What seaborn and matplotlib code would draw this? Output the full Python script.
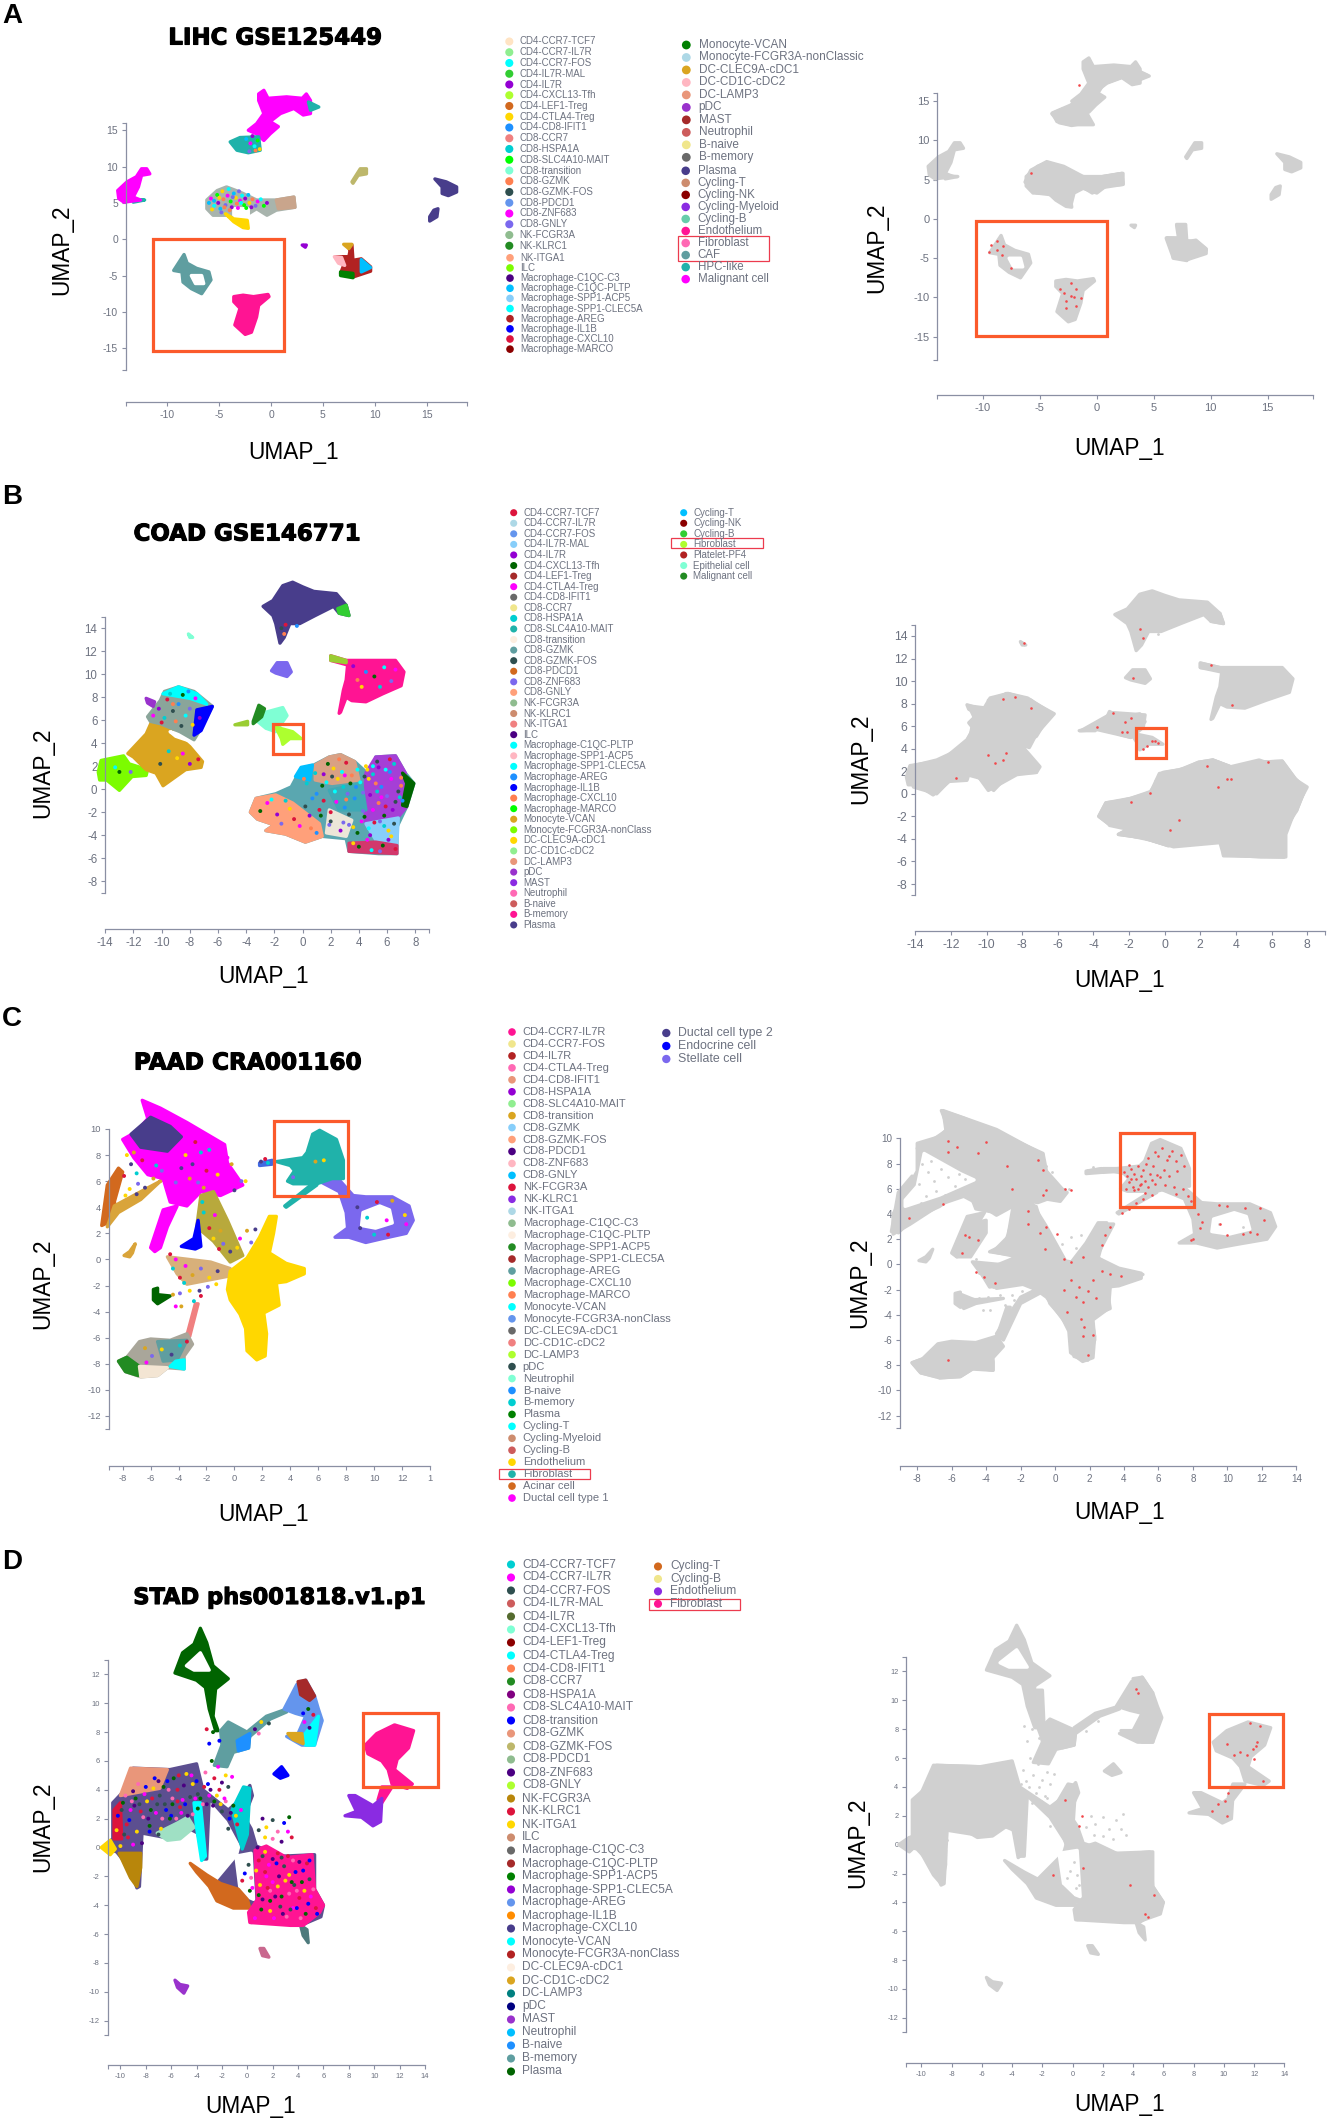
import matplotlib
matplotlib.use("Agg")
import matplotlib.pyplot as plt
import matplotlib.patheffects as pe
from matplotlib.patches import Rectangle
import seaborn as sns

W, H = 1329, 2121
GREY = "#d0d0d0"
RED = "#f2474a"
BOX = "#fb5a2b"
AXIS = "#8a8fa3"
TEXT = "#6d7280"
ROSY = "#cd8c6e"

# ---- legends ----
A_LEG1 = ["CD4-CCR7-TCF7", "CD4-CCR7-IL7R", "CD4-CCR7-FOS", "CD4-IL7R-MAL", "CD4-IL7R", "CD4-CXCL13-Tfh", "CD4-LEF1-Treg",
          "CD4-CTLA4-Treg", "CD4-CD8-IFIT1", "CD8-CCR7", "CD8-HSPA1A", "CD8-SLC4A10-MAIT", "CD8-transition", "CD8-GZMK",
          "CD8-GZMK-FOS", "CD8-PDCD1", "CD8-ZNF683", "CD8-GNLY", "NK-FCGR3A", "NK-KLRC1"]
A_COL1 = ["bisque", "lightgreen", "aqua", "limegreen", "darkviolet", "greenyellow", "chocolate", "gold", "dodgerblue",
          "lightcoral", "darkturquoise", "lime", "aquamarine", "coral", "darkslategray", "cornflowerblue", "magenta",
          "mediumslateblue", "darkseagreen", "forestgreen"]
A_LEG2 = ["NK-ITGA1", "ILC", "Macrophage-C1QC-C3", "Macrophage-C1QC-PLTP", "Macrophage-SPP1-ACP5", "Macrophage-SPP1-CLEC5A",
          "Macrophage-AREG", "Macrophage-IL1B", "Macrophage-CXCL10", "Macrophage-MARCO"]
A_COL2 = ["lightsalmon", "lawngreen", "indigo", "deepskyblue", "lightskyblue", "aqua", "firebrick", "blue", "crimson", "darkred"]
A_LEG3 = ["Monocyte-VCAN", "Monocyte-FCGR3A-nonClassic", "DC-CLEC9A-cDC1", "DC-CD1C-cDC2", "DC-LAMP3", "pDC", "MAST",
          "Neutrophil", "B-naive", "B-memory"]
A_COL3 = ["green", "lightblue", "goldenrod", "lightpink", "darksalmon", "darkorchid", "brown", "indianred", "khaki", "dimgray"]
A_LEG4 = ["Plasma", "Cycling-T", "Cycling-NK", "Cycling-Myeloid", "Cycling-B", "Endothelium", "Fibroblast", "CAF", "HPC-like",
          "Malignant cell"]
A_COL4 = ["darkslateblue", ROSY, "darkred", "blueviolet", "mediumaquamarine", "deeppink", "hotpink", "cadetblue",
          "lightseagreen", "magenta"]

B_LEG1 = ["CD4-CCR7-TCF7", "CD4-CCR7-IL7R", "CD4-CCR7-FOS", "CD4-IL7R-MAL", "CD4-IL7R", "CD4-CXCL13-Tfh", "CD4-LEF1-Treg",
          "CD4-CTLA4-Treg", "CD4-CD8-IFIT1", "CD8-CCR7", "CD8-HSPA1A", "CD8-SLC4A10-MAIT", "CD8-transition", "CD8-GZMK",
          "CD8-GZMK-FOS", "CD8-PDCD1", "CD8-ZNF683", "CD8-GNLY", "NK-FCGR3A", "NK-KLRC1", "NK-ITGA1", "ILC",
          "Macrophage-C1QC-PLTP", "Macrophage-SPP1-ACP5", "Macrophage-SPP1-CLEC5A", "Macrophage-AREG", "Macrophage-IL1B",
          "Macrophage-CXCL10", "Macrophage-MARCO", "Monocyte-VCAN", "Monocyte-FCGR3A-nonClass", "DC-CLEC9A-cDC1",
          "DC-CD1C-cDC2", "DC-LAMP3", "pDC", "MAST", "Neutrophil", "B-naive", "B-memory", "Plasma"]
B_COL1 = ["crimson", "lightblue", "cornflowerblue", "lightskyblue", "darkviolet", "darkgreen", "brown", "magenta", "dimgray",
          "khaki", "darkturquoise", "lightseagreen", "#fdeee0", "cadetblue", "darkslategray", "chocolate", "mediumslateblue",
          "lightsalmon", "darkseagreen", ROSY, "lightcoral", "indigo", "aqua", "lightpink", "aqua", "dodgerblue", "blue",
          "coral", "lime", "goldenrod", "lawngreen", "gold", "lightgreen", "darksalmon", "darkorchid", "blueviolet", "hotpink",
          "indianred", "deeppink", "darkslateblue"]
B_LEG2 = ["Cycling-T", "Cycling-NK", "Cycling-B", "Fibroblast", "Platelet-PF4", "Epithelial cell", "Malignant cell"]
B_COL2 = ["deepskyblue", "darkred", "limegreen", "greenyellow", "firebrick", "aquamarine", "forestgreen"]

C_LEG1 = ["CD4-CCR7-IL7R", "CD4-CCR7-FOS", "CD4-IL7R", "CD4-CTLA4-Treg", "CD4-CD8-IFIT1", "CD8-HSPA1A", "CD8-SLC4A10-MAIT",
          "CD8-transition", "CD8-GZMK", "CD8-GZMK-FOS", "CD8-PDCD1", "CD8-ZNF683", "CD8-GNLY", "NK-FCGR3A", "NK-KLRC1",
          "NK-ITGA1", "Macrophage-C1QC-C3", "Macrophage-C1QC-PLTP", "Macrophage-SPP1-ACP5", "Macrophage-SPP1-CLEC5A",
          "Macrophage-AREG", "Macrophage-CXCL10", "Macrophage-MARCO", "Monocyte-VCAN", "Monocyte-FCGR3A-nonClass",
          "DC-CLEC9A-cDC1", "DC-CD1C-cDC2", "DC-LAMP3", "pDC", "Neutrophil", "B-naive", "B-memory", "Plasma", "Cycling-T",
          "Cycling-Myeloid", "Cycling-B", "Endothelium", "Fibroblast", "Acinar cell", "Ductal cell type 1"]
C_COL1 = ["deeppink", "khaki", "firebrick", "hotpink", "darksalmon", "darkviolet", "lightgreen", "goldenrod", "lightskyblue",
          "lightsalmon", "indigo", "lightpink", "deepskyblue", "crimson", "blueviolet", "lightblue", "darkseagreen", "#fdeee0",
          "forestgreen", "brown", "cadetblue", "lawngreen", "coral", "aqua", "cornflowerblue", "dimgray", "lightcoral",
          "greenyellow", "darkslategray", "aquamarine", "dodgerblue", "darkturquoise", "green", "aqua", ROSY, "indianred",
          "gold", "lightseagreen", "chocolate", "magenta"]
C_LEG2 = ["Ductal cell type 2", "Endocrine cell", "Stellate cell"]
C_COL2 = ["darkslateblue", "blue", "mediumslateblue"]

D_LEG1 = ["CD4-CCR7-TCF7", "CD4-CCR7-IL7R", "CD4-CCR7-FOS", "CD4-IL7R-MAL", "CD4-IL7R", "CD4-CXCL13-Tfh", "CD4-LEF1-Treg",
          "CD4-CTLA4-Treg", "CD4-CD8-IFIT1", "CD8-CCR7", "CD8-HSPA1A", "CD8-SLC4A10-MAIT", "CD8-transition", "CD8-GZMK",
          "CD8-GZMK-FOS", "CD8-PDCD1", "CD8-ZNF683", "CD8-GNLY", "NK-FCGR3A", "NK-KLRC1", "NK-ITGA1", "ILC",
          "Macrophage-C1QC-C3", "Macrophage-C1QC-PLTP", "Macrophage-SPP1-ACP5", "Macrophage-SPP1-CLEC5A", "Macrophage-AREG",
          "Macrophage-IL1B", "Macrophage-CXCL10", "Monocyte-VCAN", "Monocyte-FCGR3A-nonClass", "DC-CLEC9A-cDC1",
          "DC-CD1C-cDC2", "DC-LAMP3", "pDC", "MAST", "Neutrophil", "B-naive", "B-memory", "Plasma"]
D_COL1 = ["darkturquoise", "magenta", "darkslategray", "indianred", "darkolivegreen", "aquamarine", "darkred", "aqua", "coral",
          "forestgreen", "purple", "hotpink", "blue", "darksalmon", "darkkhaki", "darkseagreen", "indigo", "greenyellow",
          "darkgoldenrod", "crimson", "gold", ROSY, "dimgray", "brown", "green", "darkviolet", "cornflowerblue", "darkorange",
          "darkslateblue", "aqua", "firebrick", "#fdeee0", "goldenrod", "teal", "navy", "darkorchid", "deepskyblue",
          "dodgerblue", "cadetblue", "darkgreen"]
D_LEG2 = ["Cycling-T", "Cycling-B", "Endothelium", "Fibroblast"]
D_COL2 = ["chocolate", "khaki", "blueviolet", "deeppink"]

# ---- panel A clusters, UMAP coordinates ----
A_BAND = [(-1.2, 20.0), (-0.7, 20.5), (-0.3, 19.4), (1.5, 19.6), (3.0, 19.4), (3.4, 20.0), (3.8, 19.1), (3.8, 17.3), (3.1, 17.1),
          (2.2, 18.0), (0.9, 17.3), (-0.1, 16.2), (0.7, 15.5), (-0.1, 14.5), (-0.7, 13.6), (-1.4, 14.5), (-2.2, 15.0),
          (-1.4, 15.9), (-0.7, 17.3), (-1.2, 19.1)]
A_TEAL = [(-3.95, 13.4), (-3.0, 14.0), (-1.2, 14.1), (-1.05, 12.25), (-2.2, 11.9), (-3.3, 12.25)]
A_TIP = [(3.6, 18.9), (4.6, 18.2), (3.8, 17.75)]
A_LEFT = [(-14.8, 6.7), (-13.9, 7.9), (-13.0, 8.6), (-12.5, 9.7), (-12.0, 9.7), (-11.7, 9.0), (-12.5, 8.8), (-12.8, 7.2),
          (-13.3, 5.8), (-12.6, 5.4), (-14.2, 5.1), (-14.7, 5.6)]
A_LEFT_TAIL = [(-13.3, 5.5), (-12.2, 5.4), (-13.3, 5.1)]
A_MIX = [(-6.2, 5.4), (-5.2, 6.7), (-4.3, 7.2), (-3.0, 6.5), (-1.4, 5.4), (0.5, 5.4), (2.2, 5.8), (2.3, 4.4), (0.5, 4.0),
         (-0.4, 3.3), (-1.4, 4.2), (-2.2, 3.5), (-3.6, 3.3), (-5.6, 3.3), (-6.2, 4.2)]
A_MIX_GAP = [(-3.6, 4.2), (-2.2, 4.2), (-2.2, 2.8), (-3.6, 3.3)]
A_MIX_RIGHT = [(0.5, 5.4), (2.2, 5.8), (2.3, 4.4), (0.7, 4.2)]
A_GOLD = [(-4.4, 3.5), (-3.6, 2.8), (-2.3, 2.6), (-2.2, 1.5), (-2.7, 1.6), (-3.6, 2.4)]
A_CAF = [(-9.4, -4.3), (-8.4, -2.1), (-8.1, -3.3), (-7.2, -4.0), (-6.0, -4.5), (-5.8, -5.6), (-6.7, -7.5), (-7.7, -6.8),
         (-8.5, -5.9), (-8.6, -4.5)]
A_CAF_HOLE = [(-7.7, -5.0), (-6.7, -5.0), (-6.5, -6.1), (-7.3, -6.1)]
A_FIB = [(-3.6, -7.9), (-2.7, -7.7), (-1.7, -7.9), (-0.3, -7.6), (-0.2, -7.9), (-1.2, -9.1), (-1.4, -10.7), (-1.9, -12.8),
         (-2.5, -13.1), (-3.5, -11.8), (-3.0, -9.5), (-3.6, -8.6)]
A_PLASMA1 = [(15.8, 8.3), (16.9, 7.9), (17.9, 7.2), (17.9, 6.5), (17.1, 6.0), (16.5, 6.3), (16.5, 7.2)]
A_PLASMA2 = [(15.3, 3.1), (15.7, 4.0), (16.1, 4.2), (16.0, 3.1), (15.3, 2.5)]
A_RED_BLOB = [(6.2, -2.4), (7.5, -2.4), (7.6, -1.7), (7.5, -0.8), (7.8, -0.8), (7.9, -2.9), (8.7, -2.7), (9.6, -3.8), (9.6, -4.4),
              (7.9, -5.2), (6.7, -4.7), (7.0, -3.6)]
A_BLUE = [(8.7, -2.8), (9.6, -3.9), (8.7, -4.5)]
A_GREEN = [(6.7, -4.5), (7.9, -4.7), (7.9, -5.3), (6.7, -5.0)]
A_PINK = [(6.1, -2.4), (6.8, -2.5), (7.1, -3.6), (6.5, -3.3)]
A_ORANGE = [(7.0, -0.7), (7.8, -0.7), (7.5, -1.3)]
A_SMALL = [(3.0, -0.8), (3.4, -0.8), (3.3, -1.1)]
A_NUB = [(8.6, 9.7), (9.2, 9.7), (9.2, 9.0), (8.4, 8.8), (7.9, 7.7), (7.8, 7.9)]
A_BLOBS = [(A_BAND, "magenta"), (A_TEAL, "lightseagreen"), (A_TIP, "lightseagreen"), (A_LEFT_TAIL, "lightseagreen"),
           (A_LEFT, "magenta"), (A_MIX, "#a8b4ad"), (A_MIX_RIGHT, "#c9a58c"), (A_MIX_GAP, "white"), (A_GOLD, "gold"),
           (A_CAF, "cadetblue"), (A_CAF_HOLE, "white"), (A_FIB, "deeppink"), (A_PLASMA1, "darkslateblue"),
           (A_PLASMA2, "darkslateblue"), (A_RED_BLOB, "firebrick"), (A_BLUE, "deepskyblue"), (A_GREEN, "green"),
           (A_PINK, "lightpink"), (A_ORANGE, "goldenrod"), (A_SMALL, "darkviolet"), (A_NUB, "darkkhaki")]
# extents that only the grey plot shows filled in
A_G_TOP = [(-3.9, 13.5), (-2.3, 14.5), (-1.2, 15.8), (0.0, 17.2), (-0.6, 17.9), (0.0, 18.5), (2.0, 19.4), (3.2, 19.0), (4.4, 18.3), (3.2, 17.2),
           (2.3, 18.1), (0.6, 17.2), (0.0, 15.8), (-1.2, 14.3), (-0.3, 12.0), (-2.3, 12.0), (-3.5, 12.4)]
A_G_MIX = [(-6.3, 4.7), (-5.8, 6.2), (-4.4, 7.3), (-2.9, 6.7), (-1.2, 5.4), (0.0, 5.2), (2.3, 5.8), (2.3, 4.5), (0.9, 4.3), (0.0, 3.3), (-1.2, 3.9),
           (-2.0, 3.3), (-2.3, 1.6), (-2.9, 2.0), (-4.1, 3.1), (-5.3, 3.3)]
A_G_RED = [(6.1, -2.5), (7.2, -2.7), (7.0, -0.8), (7.7, -0.8), (7.6, -2.7), (8.6, -2.9), (9.6, -4.0), (7.9, -5.2), (6.7, -4.9)]
A_GREY = [A_G_TOP, A_G_MIX, A_G_RED]
A_DOT_X = [-5.8, -5.5, -5.2, -5.1, -4.9, -4.7, -4.6, -4.4, -4.2, -4.1, -3.9, -3.8, -3.6, -3.4, -3.3, -3.1, -3.0, -2.8, -2.6, -2.5,
           -2.2, -2.1, -1.8, -1.5, -1.3, -1.0, -0.7, -0.4, -5.5, -5.0, -4.5, -3.7, -3.2, -2.9, -2.4, -1.9, -6.0, -5.7, -4.0, -4.8,
           -2.0, -1.6, -1.3, -1.8, -2.4, -1.1, -1.5, -2.1]
A_DOT_Y = [5.6, 4.6, 6.1, 5.0, 4.2, 6.6, 5.5, 4.7, 6.0, 6.9, 5.2, 4.4, 6.3, 5.7, 4.9, 6.6, 5.3, 6.0, 4.7, 5.6,
           6.1, 5.0, 5.5, 4.6, 5.2, 5.5, 4.6, 5.0, 5.3, 5.7, 4.4, 5.8, 4.3, 5.0, 4.3, 4.4, 5.0, 4.1, 4.0, 3.7,
           13.2, 12.8, 13.6, 14.2, 13.8, 12.4, 12.2, 12.1]
A_DOT_COL = ["magenta", "aqua", "lime", "darkviolet", "deepskyblue", "gold", "coral", "mediumslateblue"]
A_RED_X = [-8.8, -9.3, -9.5, -8.8, -8.2, -8.3, -7.5, -1.8, -2.3, -3.2, -2.9, -2.0, -2.7, -1.4, -1.8, -2.3, -2.7, -5.8, -1.6]
A_RED_Y = [-2.8, -3.3, -4.2, -3.9, -3.5, -4.6, -6.2, -8.9, -8.1, -8.9, -9.4, -10.0, -10.4, -10.1, -11.1, -9.8, -11.4, 5.8, 17.0]

# ---- panel B clusters ----
B_PLASMA = [(-2.8, 15.9), (-2.1, 16.4), (-1.4, 17.7), (-0.7, 18.0), (0.0, 17.6), (0.8, 17.2), (2.4, 17.0), (3.1, 16.0), (3.3, 15.1),
            (2.6, 15.3), (2.2, 15.9), (0.9, 15.1), (-0.2, 14.4), (-0.9, 14.4), (-1.3, 13.2), (-1.6, 12.7), (-1.9, 14.4), (-2.1, 15.1)]
B_PLASMA_TIP = [(2.5, 15.7), (3.1, 16.0), (3.3, 15.1), (2.6, 15.3)]
B_MAST = [(-2.2, 10.3), (-1.8, 11.0), (-1.1, 11.0), (-0.8, 10.2), (-1.1, 9.8), (-1.9, 10.1)]
B_TINY = [(-8.1, 13.5), (-7.8, 13.2), (-8.0, 13.2)]
B_ENDO = [(2.0, 11.6), (3.1, 11.2), (5.2, 11.2), (6.6, 11.2), (7.2, 10.2), (7.0, 9.0), (5.7, 8.3), (4.5, 7.6), (3.5, 7.7), (3.1, 8.0),
          (2.7, 6.7), (2.6, 6.6), (2.9, 8.6), (3.1, 9.5), (3.2, 10.8), (2.0, 11.2)]
B_ENDO_TIP = [(2.0, 11.6), (3.1, 11.2), (3.1, 11.0), (2.0, 11.2)]
B_LIME = [(-14.5, 1.5), (-14.3, 2.5), (-12.7, 2.9), (-12.3, 2.2), (-11.0, 1.7), (-11.1, 1.2), (-12.1, 1.1), (-13.0, -0.1),
          (-13.9, 0.8), (-14.4, 0.8)]
B_GOLD = [(-12.4, 3.1), (-11.1, 4.8), (-10.7, 5.9), (-9.2, 5.0), (-8.0, 3.7), (-7.1, 2.4), (-7.2, 1.9), (-8.3, 1.7), (-9.9, 0.3),
          (-10.4, 1.4), (-11.1, 1.7), (-12.0, 2.8)]
B_GOLD_GAP = [(-9.4, 5.0), (-7.5, 4.4), (-7.8, 4.1), (-9.0, 4.6)]
B_MONO = [(-11.0, 6.3), (-10.1, 7.7), (-9.8, 8.5), (-8.8, 8.9), (-7.7, 8.5), (-6.4, 7.2), (-7.3, 5.1), (-7.7, 4.3), (-8.7, 5.0),
          (-10.1, 5.7), (-10.8, 5.9)]
B_MONO_BLUE = [(-7.5, 6.9), (-6.4, 7.2), (-7.2, 5.1), (-7.7, 4.7)]
B_MONO_CYAN = [(-9.9, 8.3), (-8.8, 8.9), (-7.5, 8.3), (-6.8, 7.4), (-8.0, 7.9)]
B_NUB = [(-11.1, 7.9), (-10.5, 7.6), (-10.6, 7.2), (-11.0, 7.5)]
B_EPI = [(-3.2, 5.9), (-2.6, 6.7), (-1.4, 7.1), (-1.1, 6.4), (-1.5, 5.7), (-1.9, 5.0), (-2.6, 5.3)]
B_EPI_GREEN = [(-3.5, 5.9), (-3.1, 7.3), (-2.7, 7.0), (-2.9, 6.3), (-3.5, 5.7)]
B_EPI_TAIL = [(-4.8, 5.6), (-3.9, 5.9), (-3.9, 5.6)]
B_FIB = [(-1.9, 5.4), (-0.7, 5.0), (-0.1, 4.4), (-0.9, 4.4), (-1.4, 3.9), (-1.5, 4.4)]
B_BIG = [(-3.7, -2.0), (-3.3, -0.8), (-1.9, -0.4), (-0.8, 0.2), (-0.1, 1.8), (0.8, 2.1), (1.9, 2.8), (2.7, 3.0), (3.7, 2.4), (4.5, 1.5),
         (5.2, 1.7), (5.2, 2.8), (6.6, 2.9), (7.3, 1.4), (7.9, 0.5), (7.4, -1.5), (6.7, -3.3), (6.7, -5.6), (5.4, -5.6), (3.3, -5.4),
         (3.1, -4.3), (1.4, -4.1), (0.2, -4.6), (-1.2, -3.9), (-2.6, -3.6), (-2.0, -3.1), (-3.2, -2.6)]
B_BIG_SALMON = [(-3.7, -2.0), (-3.3, -0.8), (-1.9, -0.5), (-0.7, -1.2), (1.2, -3.0), (1.4, -4.1), (0.2, -4.6), (-1.2, -3.9), (-2.6, -3.6),
                (-2.0, -3.1), (-3.2, -2.6)]
B_BIG_PURPLE = [(4.5, 1.4), (5.2, 2.8), (6.6, 2.9), (7.3, 1.4), (7.4, -1.5), (6.8, -2.4), (4.5, -3.0), (4.4, -1.0)]
B_BIG_SKY = [(4.5, -3.0), (6.8, -2.5), (6.7, -4.7), (5.2, -4.4)]
B_BIG_CRIMSON = [(3.3, -4.7), (5.2, -4.6), (6.7, -4.9), (6.7, -5.6), (3.3, -5.4)]
B_BIG_EDGE = [(7.1, 1.4), (7.9, 0.5), (7.4, -1.5), (7.1, -1.4), (7.4, 0.5)]
B_BIG_PEACH = [(0.9, 2.1), (1.9, 2.8), (2.7, 3.0), (3.7, 2.4), (4.0, 0.8), (2.1, 0.5), (0.9, 0.8)]
B_BIG_BLUE = [(-0.5, 1.1), (-0.1, 1.9), (0.7, 2.1), (0.5, 0.8)]
B_BIG_PALE = [(1.9, -1.8), (3.5, -2.7), (3.1, -4.1), (1.7, -3.8)]
B_BIG_TEAL = [(1.9, -0.1), (4.2, 0.5), (4.5, -1.8), (2.6, -1.8)]
B_BLOBS = [(B_PLASMA, "darkslateblue"), (B_PLASMA_TIP, "limegreen"), (B_MAST, "mediumslateblue"), (B_TINY, "aquamarine"),
           (B_ENDO, "deeppink"), (B_ENDO_TIP, "yellowgreen"), (B_LIME, "lawngreen"), (B_GOLD, "goldenrod"), (B_GOLD_GAP, "white"),
           (B_MONO, "#8aa59a"), (B_MONO_BLUE, "blue"), (B_MONO_CYAN, "aqua"), (B_NUB, "darkorchid"), (B_EPI, "aquamarine"),
           (B_EPI_GREEN, "forestgreen"), (B_EPI_TAIL, "yellowgreen"), (B_FIB, "greenyellow"), (B_BIG, "#5aa7b0"),
           (B_BIG_SALMON, "lightsalmon"), (B_BIG_PURPLE, "#a53fd6"), (B_BIG_SKY, "lightskyblue"), (B_BIG_CRIMSON, "#d2386c"),
           (B_BIG_EDGE, "darkgreen"), (B_BIG_PEACH, "#d9a084"), (B_BIG_BLUE, "deepskyblue"), (B_BIG_PALE, "#ece6d8"),
           (B_BIG_TEAL, "#3fa9b5")]
B_G_LEFT = [(-14.3, 1.5), (-14.1, 2.5), (-12.8, 3.0), (-11.3, 4.1), (-10.9, 5.3), (-10.7, 6.8), (-11.0, 7.8), (-10.0, 7.6), (-8.9, 8.9), (-7.6, 8.3),
            (-6.2, 7.1), (-7.2, 5.3), (-7.6, 4.1), (-8.1, 4.4), (-7.0, 2.4), (-7.2, 1.9), (-8.7, 1.8), (-9.6, 0.3), (-10.7, 1.8), (-11.3, 1.5),
            (-12.0, 1.3), (-12.8, 0.0), (-14.1, 0.6)]
B_G_BIG = [(-3.5, -1.9), (-3.2, -0.9), (-1.9, -0.4), (-0.8, 0.1), (-0.3, 1.8), (0.7, 2.1), (1.8, 2.5), (2.7, 3.0), (3.7, 2.4), (5.3, 3.0), (6.4, 2.4),
           (7.4, 1.2), (8.0, 0.6), (7.3, -1.5), (6.8, -3.6), (6.8, -5.6), (3.3, -5.5), (3.3, -4.3), (0.5, -4.7), (-0.8, -4.1), (-2.3, -3.6),
           (-1.6, -3.3), (-3.1, -2.8)]
B_G_EPI = [(-4.7, 5.6), (-2.9, 7.2), (-1.1, 7.0), (-1.2, 5.9), (-1.9, 5.0), (-2.7, 5.3), (-3.8, 5.7)]
B_GREY = [B_G_LEFT, B_G_BIG, B_G_EPI]
B_DOT_X = [-2.5, -1.8, -1.2, -0.6, 0.2, 0.6, 1.0, 1.3, 1.7, 1.9, 2.2, 2.4, 2.7, 2.9, 3.1, 3.3, 3.5, 3.7, 3.9, 4.1, 4.3, 4.5, 4.6, 4.8,
           5.0, 5.1, 5.3, 5.4, 5.6, 5.7, 5.9, 6.0, 6.1, 6.3, 6.4, 6.5, 6.6, 6.8, 7.0, 7.1, 4.0, 4.9, 5.5, 3.6, 3.0, 1.5, 0.3, 2.0,
           4.4, 5.2, 6.2, 5.8, 4.7, 3.2, 2.5,
           -10.6, -10.2, -9.8, -9.6, -9.2, -9.0, -8.8, -8.5, -8.3, -8.0, -7.8, -7.6, -7.3, -9.4, -10.0, -8.6, -9.2, -8.1,
           -13.0, -13.3, -12.2, -8.9, -8.5, -8.0, -9.5, -7.4, -10.1, 3.9, 4.5, 5.1, 5.8, 6.3, 4.2, 6.6, 3.6, 5.5, -1.2, -1.5, -1.3, -0.4,
           -3.0, -2.2, -1.5, -0.9, -0.2, 0.5, 0.9, 1.5, 2.1, 2.6, 3.0, 3.4, 3.9, 4.3, 4.7, 5.0, 5.4, 5.8, 6.2, 6.6,
           7.0, 1.0, 1.8, 2.3, 2.9, 3.6, 4.2, 4.8, 5.3, 5.9, 6.5, 0.1, 0.7, 1.4, 2.8, 3.3, 4.6, 5.6, 6.1, 6.9, 1.2, 2.0, 3.1, 3.8, 4.4, 5.0, 5.5, 6.3]
B_DOT_Y = [-1.2, -2.2, -1.0, -2.6, -1.5, -3.4, -0.4, -2.3, 0.6, -3.1, 1.8, -1.1, -3.6, 0.2, 2.3, -2.2, 1.2, -0.8, -3.8, 0.6, -1.9, 2.0,
           -4.4, -0.5, 1.3, -2.9, 2.4, -1.2, 0.2, -4.9, 1.7, -0.6, -3.6, 0.9, -1.8, 2.2, -5.2, -0.2, 1.0, -1.0, -5.0, -5.3, -5.4, -4.7,
           1.2, 1.3, 0.5, -2.0, 1.1, 0.5, 1.5, -2.3, -3.4, -0.4, 0.9,
           6.4, 7.0, 6.2, 7.8, 6.8, 5.9, 7.4, 8.2, 6.4, 7.0, 5.6, 7.9, 6.2, 8.3, 5.8, 5.5, 7.4, 8.5,
           1.5, 1.9, 1.5, 2.7, 3.1, 2.2, 3.3, 2.6, 2.2, 9.5, 10.2, 9.8, 10.6, 9.4, 8.9, 10.4, 10.7, 8.9, 14.3, 14.0, 13.5, 14.2,
           -1.9, -0.9, -3.0, -1.7, -3.2, -2.3, 1.4, -1.0, 1.1, 2.6, -1.6, 0.5, 1.7, -0.3, 0.9, -1.8, 1.9, -3.2, 2.6, -1.1,
           0.3, -3.8, 2.2, -0.2, -2.9, -3.3, -2.8, -4.0, -0.2, -1.5, -3.0, 0.9, -0.8, 0.3, 1.5, -3.1, 1.7, -0.7, -4.4, -0.7, -1.8, -2.8, -0.9, 0.2, -2.4, 2.0, -2.8, -4.1]
B_DOT_COL = ["magenta", "darkviolet", "darkturquoise", "crimson", "darkslategray", "coral", "dodgerblue", "darkgreen", "aqua",
             "mediumslateblue", "gold"]
B_RED_X = [-7.9, -1.4, -1.2, -1.8, -2.9, -3.8, -1.9, -2.2, -2.4, -2.1, -0.7, -0.55, -0.4, -1.0, -1.2, -8.9, -9.9, -9.5, -9.1, -11.7,
           -9.1, -8.4, -7.5, 3.8, 2.6, 2.4, 3.0, 3.5, 3.7, -0.8, -1.9, 0.8, 0.3, 5.8]
B_RED_Y = [13.4, 14.6, 13.8, 10.3, 7.2, 5.9, 6.7, 6.4, 5.5, 5.5, 4.7, 4.7, 4.5, 4.2, 4.0, 3.6, 3.4, 2.7, 3.0, 1.4,
           8.4, 8.6, 7.6, 7.9, 11.4, 2.5, 0.6, 1.3, 1.3, 0.1, -0.7, -2.3, -3.2, 2.8]

# ---- panel C clusters ----
C_DUCT = [(-6.6, 12.2), (-5.3, 11.6), (-3.4, 10.5), (-0.7, 8.8), (-0.5, 7.4), (0.6, 5.7), (-1.0, 4.9), (-2.4, 5.2), (-3.4, 4.1),
          (-4.6, 4.4), (-5.1, 6.2), (-6.2, 6.5), (-7.2, 7.8), (-8.0, 9.2), (-7.0, 9.8), (-6.2, 10.8)]
C_DUCT2 = [(-7.4, 9.6), (-6.0, 10.9), (-4.6, 10.2), (-3.8, 9.4), (-4.8, 8.3), (-6.7, 8.6)]
C_ACINAR = [(-9.5, 2.6), (-9.1, 5.7), (-8.3, 7.0), (-8.0, 6.7), (-8.6, 4.4), (-8.4, 3.8), (-9.1, 2.8)]
C_ARC = [(-8.6, 4.1), (-6.7, 5.2), (-5.3, 6.0), (-5.1, 6.2), (-6.7, 4.6), (-8.3, 3.6), (-9.1, 2.5)]
C_MID = [(-2.4, 4.9), (-1.5, 5.2), (-0.5, 3.0), (0.6, 0.3), (-0.3, -0.2), (-1.5, 1.4), (-2.7, 2.5)]
C_BLUE = [(-3.8, 1.0), (-2.9, 1.6), (-2.6, 3.0), (-2.4, 1.0), (-2.8, 0.8)]
C_ARM = [(-6.0, 0.9), (-5.1, 3.8), (-4.1, 4.1), (-4.8, 2.5), (-5.3, 0.9), (-5.7, 0.6)]
C_TINY = [(-7.9, 0.3), (-7.5, 0.6), (-7.1, 1.2), (-7.3, 0.5), (-7.5, 0.2)]
C_STRAND = [(-4.8, 0.2), (-1.7, -0.2), (-0.3, -0.7), (-0.5, -1.3), (-3.4, -1.9), (-4.1, -1.1)]
C_ENDO = [(-0.5, -2.3), (-0.3, -0.9), (0.9, 0.1), (1.8, 1.7), (2.5, 3.3), (3.0, 3.3), (2.8, 2.0), (2.5, 0.5), (3.7, -0.3), (5.0, -0.7),
          (5.0, -1.1), (3.7, -1.7), (3.0, -1.8), (3.2, -3.5), (2.1, -4.1), (2.3, -5.7), (2.2, -7.4), (1.6, -7.7), (0.9, -7.0),
          (0.8, -5.3), (0.4, -4.2), (-0.3, -3.1)]
C_GREEN = [(-5.8, -2.3), (-5.5, -2.2), (-5.5, -2.7), (-4.6, -2.8), (-5.5, -3.4), (-5.8, -3.1)]
C_LINK = [(-3.4, -5.8), (-2.8, -3.4), (-2.6, -3.4), (-3.2, -5.9)]
C_LOW = [(-8.3, -7.8), (-7.7, -7.5), (-6.8, -6.3), (-6.0, -6.1), (-4.6, -6.2), (-3.4, -5.7), (-3.0, -6.5), (-3.6, -7.4), (-3.6, -8.4),
         (-4.8, -8.3), (-5.5, -8.9), (-6.7, -9.0), (-7.8, -8.6)]
C_LOW_GREEN = [(-8.3, -7.8), (-7.7, -7.5), (-6.8, -8.2), (-6.9, -8.9), (-7.8, -8.6)]
C_LOW_PALE = [(-6.8, -8.2), (-4.8, -8.3), (-5.5, -8.9), (-6.7, -9.0)]
C_LOW_CADET = [(-5.5, -6.3), (-3.4, -6.2), (-4.1, -7.7), (-5.1, -7.8)]
C_LOW_CYAN = [(-4.2, -7.8), (-3.6, -7.7), (-3.6, -8.4), (-4.6, -8.2)]
C_FIB = [(3.0, 7.5), (4.9, 7.8), (5.2, 8.2), (5.6, 9.6), (6.1, 9.9), (7.3, 9.2), (7.8, 7.6), (7.8, 6.2), (7.0, 6.2), (5.9, 5.8), (4.2, 5.8),
         (3.8, 6.0), (4.3, 6.8), (4.0, 7.2)]
C_STUB = [(1.8, 7.4), (2.7, 7.6), (2.7, 7.3), (1.8, 7.2)]
C_DIAG = [(3.6, 4.1), (5.7, 5.9), (5.9, 5.7), (3.7, 4.0)]
C_STELL = [(5.9, 6.1), (7.5, 6.1), (8.5, 4.9), (9.4, 4.8), (11.3, 4.8), (12.5, 4.1), (12.8, 3.0), (12.3, 2.0), (10.6, 1.6), (9.4, 1.3),
           (8.2, 1.7), (7.2, 1.7), (8.1, 2.4), (8.0, 3.6), (7.5, 5.2)]
C_STELL_HOLE = [(9.2, 3.6), (10.4, 4.1), (11.1, 3.8), (11.3, 2.8), (10.1, 2.4), (9.1, 2.6)]
C_BLOBS = [(C_STELL, "mediumslateblue"), (C_STELL_HOLE, "white"), (C_ACINAR, "chocolate"), (C_ARC, "#d9a43a"), (C_DUCT, "magenta"),
           (C_DUCT2, "darkslateblue"), (C_MID, "#b8a93c"), (C_BLUE, "blue"), (C_ARM, "magenta"), (C_TINY, "#d9a43a"),
           (C_STRAND, "#d8b07a"), (C_LINK, "lightcoral"), (C_ENDO, "gold"), (C_GREEN, "darkgreen"), (C_LOW, "#a9a69a"),
           (C_LOW_GREEN, "forestgreen"), (C_LOW_PALE, "#f3e5d3"), (C_LOW_CADET, "cadetblue"), (C_LOW_CYAN, "aqua"), (C_FIB, "lightseagreen"),
           (C_STUB, "royalblue"), (C_DIAG, "lightseagreen")]
C_G_DUCT = [(-6.5, 12.2), (-3.4, 10.7), (-0.7, 8.7), (-0.7, 6.9), (0.7, 5.7), (0.3, 5.0), (-1.5, 5.4), (-2.2, 4.8), (-3.4, 3.9), (-4.2, 4.6), (-5.3, 5.4),
            (-6.6, 4.8), (-8.4, 3.2), (-9.4, 2.4), (-9.4, 4.0), (-8.0, 7.4), (-8.0, 9.6), (-6.3, 10.3)]
C_G_HOLLOW = [(-7.6, 8.8), (-5.5, 7.2), (-4.7, 6.7), (-6.7, 5.5), (-8.7, 4.6), (-8.7, 5.1), (-8.0, 6.2)]
C_G_ARM = [(-5.9, 0.9), (-4.6, 3.3), (-4.0, 3.5), (-4.0, 2.5), (-4.9, 0.6), (-5.7, 0.6)]
C_G_MID = [(-3.6, 1.0), (-2.5, 2.5), (-1.8, 4.9), (-1.1, 4.6), (-0.5, 1.9), (0.5, 0.3), (1.3, 0.1), (1.6, 0.6), (3.0, 3.2), (3.4, 3.2), (2.4, 0.6), (3.4, -0.3),
           (5.1, -0.8), (3.6, -1.5), (3.2, -1.8), (3.1, -3.5), (2.2, -4.4), (2.3, -6.0), (1.9, -7.6), (1.1, -7.3), (0.9, -5.2), (-0.5, -2.6), (-1.1, -2.0),
           (-2.2, -1.4), (-3.8, -1.8), (-4.2, -0.9), (-4.0, -0.4), (-2.2, 0.6)]
C_G_LINK = [(-3.4, -5.5), (-2.0, -2.6), (-1.1, -2.0), (-0.5, -2.0), (-2.0, -3.1), (-3.0, -6.0)]
C_G_GREEN = [(-5.7, -2.8), (-5.6, -2.3), (-4.7, -2.8), (-3.0, -2.7), (-4.6, -3.1), (-5.3, -3.5)]
C_G_STUB = [(1.9, 7.4), (2.8, 7.6), (4.0, 7.6), (4.0, 7.4), (2.8, 7.3)]
C_GREY = [C_G_DUCT, C_G_HOLLOW, C_G_ARM, C_G_MID, C_G_LINK, C_G_GREEN, C_G_STUB]
C_GREY_COL = {1: "white"}
C_DOT_X = [-3.5, -3.0, -2.4, -2.0, -1.6, -3.2, -2.6, -1.2, -3.8, -1.8, -2.8, -0.8, -2.2, -4.2,
           -7.7, -7.4, -7.0, -6.6, -6.2, -5.8, -6.9, -7.5, -6.4, -5.6, -7.9, -6.0, -7.2, -5.2, -7.8, -7.0,
           -2.2, -1.8, -1.4, -1.0, -0.8, -1.5, -0.3, -2.3, -1.1, 0.4, 0.9, 1.2, 0.2, 1.5,
           -4.4, -3.9, -3.5, -3.0, -2.4, -1.8, -1.2, -3.6, -4.6, -4.2,
           -4.4, -3.9, -3.2, -2.5, -2.9, -2.4, -4.2, -3.8, -1.9, -1.3,
           8.8, 9.5, 10.2, 10.9, 11.3, 11.8, 12.2, 9.0, 10.0, 11.0, 12.3,
           -6.4, -5.9, -5.2, -4.5, -3.9, -3.4, -6.3, 5.8, 4.2, 6.4, 1.9, 2.4, 2.2, -0.5, -0.2, 0.5, 0.8, 0.0]
C_DOT_Y = [8.0, 7.3, 8.2, 6.8, 7.6, 6.2, 5.9, 6.5, 7.0, 8.4, 9.0, 5.7, 5.5, 5.9,
           8.0, 7.3, 6.6, 7.6, 6.9, 6.2, 5.8, 5.4, 5.5, 7.2, 6.4, 8.0, 8.2, 6.8, 4.9, 5.0,
           3.6, 2.4, 3.4, 2.2, 1.2, 1.6, 0.6, 4.4, 0.8, 1.6, 2.2, 1.3, 0.9, 2.3,
           -0.7, -1.4, -0.5, -1.2, -0.7, -1.4, -0.9, -1.8, 0.4, 0.0,
           -2.7, -2.6, -2.4, -2.4, -3.2, -2.8, -3.6, -3.6, -2.1, -1.9,
           4.0, 3.2, 4.4, 3.0, 4.5, 2.5, 3.4, 2.4, 1.9, 1.9, 2.7,
           -6.8, -7.4, -6.9, -7.3, -6.6, -6.3, -7.9, 7.5, 6.3, 7.6, 7.5, 7.4, 7.7, 7.8, 7.3, 6.0, 6.0, 5.3]
C_DOT_COL = ["gold", "darkslateblue", "darkturquoise", "crimson", "magenta", "goldenrod", "mediumslateblue"]
C_RED_X = [4.0, 4.2, 4.3, 4.4, 4.5, 4.6, 4.7, 4.8, 4.9, 5.0, 5.1, 5.2, 5.3, 5.4, 5.5, 5.6, 5.7, 5.8, 5.9, 6.0, 6.1, 6.2, 6.3, 6.4, 6.5, 6.6,
           6.8, 6.9, 7.0, 7.1, 7.3, 7.4, 7.5, 4.1, 4.6, 5.2, 5.6, 4.3, 4.8, 5.4, 6.6, 5.8, 5.0, 4.4, 7.0, 7.7, 7.9, 3.9, 4.3, 4.7, 5.1,
           0.5, 0.9, 1.2, 1.4, 1.6, 1.9, 2.2, 2.4, 2.7, 1.5, 1.7, 1.6, 2.2, 1.9, 3.2, 3.8, 0.7, 2.7, 2.9, 3.2, 1.6, 0.9, 0.5,
           0.1, -0.5, -0.6, -0.9, -1.6, -1.6, -0.7,
           8.3, 8.5, 8.4, 9.5, 10.0, 11.0, 11.9, 10.0, 10.9, 11.3, 11.7, 12.1, 9.6, 8.0, 7.9,
           -6.2, -5.7, -4.0, -2.8, -2.5, -6.2, -8.5, -6.5, -4.5, -1.0, -0.7, -0.5, 0.6, 0.9,
           -5.2, -5.0, -4.5, -5.4, -4.1, -3.5, -4.6, -6.2]
C_RED_Y = [7.3, 7.0, 6.5, 7.6, 6.1, 7.2, 6.8, 7.8, 6.3, 7.0, 7.5, 6.6, 8.0, 6.1, 7.2, 6.7, 7.8, 6.4, 7.1, 8.6, 6.9, 9.2, 7.5, 6.3, 8.3, 7.0,
           9.0, 6.1, 8.2, 7.4, 8.7, 6.0, 7.8, 6.0, 5.9, 5.7, 5.5, 7.9, 6.0, 8.4, 8.6, 8.9, 6.4, 6.8, 5.6, 5.4, 5.0, 4.1, 4.4, 4.9, 5.2,
           -2.0, -1.2, -2.6, -1.8, -3.0, -2.1, -1.2, -2.7, -0.5, -4.3, -5.0, -5.7, -5.6, -7.2, -0.8, -0.9, -3.8, 1.5, 2.3, 3.0, 0.6, 0.2, 0.4,
           2.4, 3.0, 1.2, 2.5, 3.2, 4.2, 5.5,
           4.0, 3.4, 2.9, 4.7, 4.6, 4.5, 4.5, 2.3, 2.4, 2.6, 2.4, 3.5, 3.2, 2.0, 1.9,
           9.8, 9.3, 9.7, 7.8, 6.0, 8.9, 3.7, 4.8, 8.8, 8.3, 7.5, 5.9, 6.0, 5.9,
           2.3, 2.2, 1.9, 0.9, -1.0, -1.5, -0.6, -7.6]

# ---- panel D clusters ----
D_PLASMA = [(-5.7, 12.1), (-5.1, 13.5), (-4.2, 14.1), (-3.7, 15.2), (-3.2, 14.2), (-2.7, 12.6), (-1.5, 11.7), (-2.5, 11.0), (-2.7, 9.1),
            (-2.3, 8.1), (-2.5, 8.1), (-3.0, 9.6), (-3.3, 11.1), (-4.0, 11.6)]
D_PLASMA_HOLE = [(-4.8, 12.6), (-3.7, 13.5), (-3.0, 12.3), (-4.2, 12.3)]
D_HUB = [(-2.1, 8.1), (-1.5, 8.7), (0.2, 7.9), (0.1, 6.9), (-1.1, 6.6), (-1.6, 5.6), (-2.6, 5.7), (-2.0, 7.1)]
D_HUB_BLUE = [(-0.8, 7.4), (0.2, 7.9), (0.1, 6.9), (-0.7, 6.7)]
D_LINK = [(0.1, 8.1), (1.5, 9.1), (3.1, 9.6), (3.1, 9.4), (1.8, 8.9), (0.2, 7.7)]
D_TOP = [(2.9, 9.6), (3.9, 11.3), (4.6, 11.6), (5.3, 10.5), (5.6, 9.6), (5.9, 8.8), (5.3, 7.1), (4.3, 7.1), (3.1, 7.7), (4.0, 7.9),
         (4.6, 9.1), (3.8, 9.3)]
D_TOP_BROWN = [(4.0, 11.5), (4.6, 11.6), (5.3, 10.5), (4.9, 10.2), (4.2, 10.6)]
D_TOP_CYAN = [(4.3, 7.6), (5.0, 8.4), (5.6, 9.1), (5.3, 7.1), (4.6, 7.1)]
D_TOP_ORANGE = [(3.2, 7.9), (4.3, 7.9), (4.4, 7.2), (3.6, 7.5)]
D_BLUE = [(2.1, 5.1), (2.7, 5.6), (3.2, 5.0), (2.6, 4.8)]
D_FIB = [(9.3, 7.1), (10.2, 7.9), (11.6, 8.5), (13.1, 8.1), (12.7, 6.9), (11.8, 6.1), (11.6, 5.4), (13.0, 4.4), (12.6, 4.1), (11.4, 4.4),
         (11.1, 5.4), (10.6, 6.0), (9.5, 6.5)]
D_FIB_TAIL = [(10.6, 4.2), (11.4, 4.2), (10.6, 3.1), (10.3, 3.3)]
D_ENDO = [(8.0, 3.6), (8.5, 3.6), (9.9, 2.9), (10.6, 3.4), (10.5, 1.8), (9.9, 1.5), (9.0, 2.1), (7.7, 2.2), (8.6, 2.5)]
D_MAST = [(-5.7, -9.2), (-5.3, -9.5), (-4.7, -9.6), (-5.0, -10.1), (-5.5, -9.7)]
D_ISLE = [(1.0, -7.0), (1.3, -7.0), (1.7, -7.6), (1.2, -7.5)]
D_TAIL = [(4.2, -5.4), (4.7, -5.7), (4.8, -6.6), (4.4, -6.1)]
D_MAIN = [(-11.4, 0.0), (-10.6, 0.6), (-10.6, 3.1), (-9.3, 4.3), (-9.0, 5.5), (-6.1, 5.4), (-4.0, 5.8), (-3.5, 4.0), (-1.5, 2.6), (-0.6, 3.3), (0.2, 4.3),
          (0.4, 3.6), (0.0, 2.7), (-0.6, 2.7), (0.3, 1.3), (0.7, 0.1), (2.7, -0.6), (5.3, -0.5), (5.3, -2.9), (6.0, -4.0), (5.8, -4.8), (4.2, -5.4),
          (2.5, -5.0), (0.3, -5.2), (0.5, -4.0), (-2.4, -3.6), (-2.6, -2.7), (-0.6, -0.6), (-0.4, 0.1), (-1.5, 1.9), (-3.0, 3.4), (-3.2, -0.8),
          (-3.5, -0.8), (-3.9, 1.0), (-5.0, 1.5), (-5.9, 0.6), (-8.3, 1.0), (-8.5, -2.7), (-8.7, -2.8), (-9.2, -1.5), (-10.3, -0.3)]
D_GAP = [(-0.9, -0.6), (0.3, -0.4), (0.5, -3.6), (0.0, -3.4), (-0.6, -2.7)]
D_MAIN_SALMON = [(-9.2, 5.5), (-6.3, 5.4), (-6.9, 4.1), (-10.0, 3.6)]
D_MAIN_AQUA = [(-7.1, 1.0), (-5.5, 1.7), (-4.7, 2.1), (-4.2, 1.4), (-5.3, 0.6), (-6.3, 0.5)]
D_MAIN_CYAN = [(-4.2, 3.1), (-3.7, 3.1), (-3.3, -0.6), (-3.6, -0.9), (-4.0, 1.4)]
D_MAIN_TURQ = [(-0.3, 4.2), (0.2, 4.1), (0.0, 0.9), (-0.4, -0.1), (-1.2, 2.6)]
D_MAIN_OCHRE = [(-10.1, -0.4), (-8.4, -0.4), (-8.4, -1.4), (-8.7, -2.7), (-9.2, -2.1)]
D_MAIN_GOLD = [(-11.5, 0.0), (-10.8, 0.5), (-10.4, -0.1), (-10.8, -0.5)]
D_MAIN_RED = [(-10.5, 2.6), (-10.0, 3.1), (-9.9, 0.6), (-10.5, 0.6)]
D_PINK = [(0.6, -0.2), (1.5, 0.1), (3.1, -0.7), (5.1, -0.5), (5.3, -2.9), (6.0, -4.0), (5.7, -4.5), (4.4, -5.4), (3.4, -5.4), (0.2, -5.2), (0.1, -4.5),
          (0.8, -3.6), (0.7, -1.9)]
D_CHOC = [(-4.5, -1.1), (-3.2, -1.9), (-2.1, -2.5), (-0.7, -2.9), (0.0, -3.6), (0.2, -4.2), (-1.1, -4.2), (-2.4, -3.7), (-3.0, -2.7), (-4.0, -1.7)]
D_BLOBS = [(D_PLASMA, "darkgreen"), (D_PLASMA_HOLE, "white"), (D_LINK, "cadetblue"), (D_HUB, "cadetblue"), (D_HUB_BLUE, "dodgerblue"),
           (D_TOP, "cornflowerblue"), (D_TOP_BROWN, "brown"), (D_TOP_CYAN, "aqua"), (D_TOP_ORANGE, "goldenrod"), (D_BLUE, "blue"),
           (D_FIB, "deeppink"), (D_FIB_TAIL, "deeppink"), (D_ENDO, "blueviolet"), (D_MAST, "darkorchid"), (D_ISLE, "#c9688e"),
           (D_TAIL, "#4d7a7c"), (D_MAIN, "#5c4f90"), (D_GAP, "white"), (D_MAIN_SALMON, "darksalmon"), (D_MAIN_AQUA, "#9fe0c4"), (D_MAIN_CYAN, "aqua"),
           (D_MAIN_TURQ, "darkturquoise"), (D_MAIN_OCHRE, "darkgoldenrod"), (D_MAIN_GOLD, "gold"), (D_MAIN_RED, "crimson"),
           (D_CHOC, "chocolate"), (D_PINK, "deeppink")]
D_G_STEM = [(-2.8, 10.7), (-2.0, 10.7), (-1.9, 8.4), (-1.4, 6.4), (-1.7, 6.4), (-2.4, 8.4)]
D_GREY = [D_G_STEM]
D_DOT_X = [-10.2, -9.8, -9.5, -9.2, -9.0, -8.7, -8.5, -8.2, -8.0, -7.7, -7.5, -7.2, -7.0, -6.8, -6.5, -6.2, -6.0, -5.8, -5.5, -5.2, -5.0, -4.8,
           -4.5, -4.3, -4.0, -3.7, -3.4, -3.0, -2.7, -2.4, -2.0, -1.7, -1.4, -1.1, -0.8, -0.5, -8.9, -7.9, -6.9, -5.9, -4.9, -3.9, -9.4, -9.0,
           -8.3, -10.0, -7.0, -5.6, -6.4, -7.6,
           0.9, 1.5, 2.0, 2.4, 2.9, 3.3, 3.8, 4.3, 4.7, 5.0, 1.2, 1.8, 2.6, 3.1, 3.9, 4.6, 5.4, 0.6, 2.2, 1.0, 2.7, 3.6, 4.9, 3.5, 4.1, 1.7, 0.8, 1.4,
           0.1, 0.3, -0.2, 0.2, -0.4, 0.4, 1.2, 1.5, 2.0, 2.4, 2.9, 3.3, 3.5, 3.2, 2.7, 1.4, 0.9, 2.0,
           -3.0, -2.8, -2.6, -2.3, -2.0, -1.7, -1.5, -3.3, -2.2, -2.7, -3.2, -1.2, 0.6, 1.1, 1.7, 0.9, 4.4, 4.8, 5.2, 4.5, 4.9,
           -10.3, -9.9, -9.6, -9.3, -8.8, -8.4, -8.1, -7.8, -7.4, -7.1, -6.7, -6.3, -5.9, -5.5, -5.1, -4.7, -4.3, -3.9, -3.5, -3.1,
           -2.6, -2.2, -1.8, -1.3, -0.9, -9.7, -8.6, -7.3, -6.1, -5.3, -4.4, -3.2, -2.1, -1.5, -9.1, -7.7, -6.6, -5.4, -4.1, -2.9,
           0.7, 1.2, 1.8, 2.3, 2.7, 3.2, 3.6, 4.1, 4.5, 4.9, 5.2, 5.5, 1.1, 1.6, 2.1, 2.5, 3.0, 3.4, 3.9, 4.4, 0.9, 1.4, 2.0, 2.8, 3.3, 3.7, 4.2, 4.8, 1.8, 2.4]
D_DOT_Y = [2.2, 3.1, 1.6, 2.6, 3.9, 1.1, 3.0, 2.1, 4.2, 1.5, 3.4, 2.4, 4.6, 1.3, 3.0, 4.0, 2.2, 4.8, 3.2, 2.4, 4.3, 5.1,
           3.5, 2.3, 4.6, 3.4, 4.2, 3.6, 2.9, 3.6, 2.5, 3.2, 2.0, 2.9, 1.6, 2.6, 2.9, 3.2, 3.6, 3.4, 3.0, 2.7, 0.7, 0.2,
           0.3, 0.1, 0.9, 2.0, 2.6, 2.6,
           -0.9, -2.0, -0.8, -2.7, -1.3, -3.2, -1.7, -2.4, -1.1, -3.4, -3.6, -4.4, -4.1, -4.8, -4.2, -4.6, -4.2, -4.9, -3.4, -2.6, -0.7, -0.9, -0.9, -2.4, -3.5, -1.2, 0.0, -0.3,
           -1.2, -2.1, -1.8, -3.0, -2.3, -2.8, 2.0, 1.4, 1.9, 1.1, 1.7, 2.1, 0.7, 1.1, 0.4, 0.7, 1.2, 0.6,
           7.2, 6.0, 4.8, 5.6, 4.5, 5.0, 4.2, 5.2, 7.4, 8.0, 8.2, 4.9, 8.2, 8.7, 8.6, 7.9, 9.3, 9.6, 9.2, 8.7, 8.3,
           1.2, 2.6, 3.6, 1.9, 3.4, 2.5, 3.7, 2.0, 4.1, 3.0, 2.0, 4.6, 3.0, 4.0, 3.3, 2.2, 4.4, 3.7, 3.0, 4.4,
           3.2, 4.0, 3.4, 2.4, 2.2, 0.9, 4.4, 4.8, 2.0, 2.8, 5.0, 3.0, 3.0, 1.3, 3.2, 1.1, 4.2, 5.0, 3.4, 4.0,
           -1.6, -0.6, -3.0, -1.1, -3.4, -0.6, -4.2, -1.0, -3.0, -2.2, -2.9, -4.6, -4.3, -2.8, -4.9, -2.0, -2.3, -4.3, -3.0, -1.6, -3.3, -1.7, -2.4, -4.6, -1.9, -2.6, -4.9, -3.9, -3.7, -0.4]
D_DOT_COL = ["blue", "darkgreen", "crimson", "magenta", "indigo", "gold", "darkslategray", "hotpink"]
D_RED_X = [10.2, 12.4, 11.7, 12.2, 12.1, 11.9, 11.1, 11.5, 10.7, 12.0, 12.6, 10.3, 9.6, 9.2, 10.1, 10.2, 4.2, 4.3, -0.5, 0.6, 0.4, -1.3, 0.7, 3.8, 5.4, 4.8, 5.0]
D_RED_Y = [7.0, 8.2, 8.4, 7.1, 6.8, 6.6, 6.4, 6.2, 6.2, 5.9, 4.4, 3.6, 2.8, 2.3, 3.0, 2.0, 10.8, 10.5, 3.1, 2.0, 1.3, -2.1, -1.6, -2.8, -3.5, -4.8, -5.0]

# tick values
A_XT, A_YT = [-10, -5, 0, 5, 10, 15], [-15, -10, -5, 0, 5, 10, 15]
B_XT, B_YT = [-14, -12, -10, -8, -6, -4, -2, 0, 2, 4, 6, 8], [-8, -6, -4, -2, 0, 2, 4, 6, 8, 10, 12, 14]
C_XT, C_YT = [-8, -6, -4, -2, 0, 2, 4, 6, 8, 10, 12, 14], [-12, -10, -8, -6, -4, -2, 0, 2, 4, 6, 8, 10]
D_XT, D_YT = [-10, -8, -6, -4, -2, 0, 2, 4, 6, 8, 10, 12, 14], [-12, -10, -8, -6, -4, -2, 0, 2, 4, 6, 8, 10, 12]

sns.set_style("white")
plt.rcParams["font.family"] = ["Liberation Sans", "DejaVu Sans"]
fig = plt.figure(figsize=(W / 100, H / 100), dpi=100)

overlay = fig.add_axes([0, 0, 1, 1], zorder=0)
overlay.patch.set_alpha(0)


def draw_umap(box, xlim, ylim, xticks, yticks, axis_y, tick_size, blobs, dots, dot_cols, red, rect, grey_extra=None, grey_cols=None, clip_x=None):
    # box is left, top, right, bottom in pixels of the figure; grey_extra is None for the coloured plot
    coloured = grey_extra is None
    left, top, right, bottom = box
    ax = fig.add_axes([left / W, 1 - bottom / H, (right - left) / W, (bottom - top) / H], zorder=2)
    ax.patch.set_alpha(0)
    for pts, col in blobs:
        face = col if coloured or col == "white" else GREY
        ax.fill([p[0] for p in pts], [p[1] for p in pts], color=face, lw=2.4, joinstyle="round", clip_on=False, zorder=2)
    if coloured:
        hues = [dot_cols[i % len(dot_cols)] for i in range(len(dots[0]))]
        sns.scatterplot(x=dots[0], y=dots[1], hue=hues, palette={c: c for c in dot_cols}, s=8, linewidth=0,
                        legend=False, clip_on=False, zorder=3, ax=ax)
    else:
        for i, pts in enumerate(grey_extra):
            face = (grey_cols or {}).get(i, GREY)
            ax.fill([p[0] for p in pts], [p[1] for p in pts], color=face, lw=2.4, joinstyle="round", clip_on=False, zorder=2)
        sns.scatterplot(x=dots[0], y=dots[1], color=GREY, s=4, linewidth=0, clip_on=False, zorder=3, ax=ax)
        sns.scatterplot(x=red[0], y=red[1], color=RED, s=3.5, linewidth=0, clip_on=False, zorder=4, ax=ax)
    ax.add_patch(Rectangle((rect[0], rect[2]), rect[1] - rect[0], rect[3] - rect[2], fill=False, ec=BOX, lw=2.3,
                           clip_on=False, zorder=5))
    xt = [t for t in xticks if xlim[0] <= t <= xlim[1] + 0.1]
    xt_all = ([xlim[0]] if xlim[0] not in xt else []) + xt + ([xlim[1]] if xlim[1] not in xt else [])
    yt_all = ([ylim[0]] if ylim[0] not in yticks else []) + yticks + ([ylim[1]] if ylim[1] not in yticks else [])
    ax.set_xticks(xt_all, ["1" if clip_x == t else (str(t) if t in xticks else "") for t in xt_all])
    ax.set_yticks(yt_all, [str(t) if t in yticks else "" for t in yt_all])
    ax.set_xlim(*xlim)
    ax.set_ylim(*ylim)
    sns.despine(ax=ax)
    ax.spines["bottom"].set_position(("outward", (axis_y - bottom) * 0.72))
    for name in ("left", "bottom"):
        ax.spines[name].set_color(AXIS)
        ax.spines[name].set_linewidth(0.9)
    ax.tick_params(axis="both", length=3.2, width=0.8, color=AXIS, labelcolor=TEXT, labelsize=tick_size, pad=2.5,
                   left=True, bottom=True)
    ax.grid(False)
    return ax


# panel A
draw_umap((126, 123, 467, 370), (-14, 18.9), (-18, 16), A_XT, A_YT, 402, 7.5, A_BLOBS, (A_DOT_X, A_DOT_Y), A_DOT_COL,
          (A_RED_X, A_RED_Y), (-11.4, 1.2, -15.4, 0))
draw_umap((937.3, 93.3, 1313.3, 360.3), (-14, 19), (-18, 16), A_XT, A_YT, 395.3, 8, A_BLOBS, (A_DOT_X, A_DOT_Y), A_DOT_COL,
          (A_RED_X, A_RED_Y), (-10.6, 0.85, -14.9, -0.25), grey_extra=A_GREY)
# panel B
draw_umap((105.3, 616.7, 429.3, 892.7), (-14, 9), (-9, 15), B_XT, B_YT, 928.7, 8.3, B_BLOBS, (B_DOT_X, B_DOT_Y), B_DOT_COL,
          (B_RED_X, B_RED_Y), (-2.07, 0.05, 3.04, 5.65))
draw_umap((915.3, 624.7, 1325, 895.3), (-14, 9), (-9, 15), B_XT, B_YT, 930.7, 8.8, B_BLOBS, (B_DOT_X, B_DOT_Y), B_DOT_COL,
          (B_RED_X, B_RED_Y), (-1.6, 0.07, 3.2, 5.86), grey_extra=B_GREY)
# panel C, the x axis of the left plot is cut in the source so 14 reads "1"
draw_umap((108.7, 1129, 430, 1429), (-9, 14), (-13, 10), C_XT, C_YT, 1466, 6.7, C_BLOBS, (C_DOT_X, C_DOT_Y), C_DOT_COL,
          (C_RED_X, C_RED_Y), (2.85, 8.1, 4.9, 10.64), clip_x=14)
draw_umap((900, 1138.3, 1296.3, 1428.3), (-9, 14), (-13, 10), C_XT, C_YT, 1465.7, 7.1, C_BLOBS, (C_DOT_X, C_DOT_Y), C_DOT_COL,
          (C_RED_X, C_RED_Y), (3.74, 8.04, 4.58, 10.45), grey_extra=C_GREY, grey_cols=C_GREY_COL)
# panel D
draw_umap((107.7, 1660, 425, 2035), (-11, 14), (-13, 13), D_XT, D_YT, 2065, 5.5, D_BLOBS, (D_DOT_X, D_DOT_Y), D_DOT_COL,
          (D_RED_X, D_RED_Y), (9.15, 15.0, 4.2, 9.3))
draw_umap((906.3, 1657, 1284.3, 2032.3), (-11, 14), (-13, 13), D_XT, D_YT, 2062.7, 5.3, D_BLOBS, (D_DOT_X, D_DOT_Y), D_DOT_COL,
          (D_RED_X, D_RED_Y), (9.0, 13.9, 3.97, 9.07), grey_extra=D_GREY)


def legend_col(labels, colors, dot_x, text_x, y0, step, size, dot=30):
    ys = [y0 + i * step for i in range(len(labels))]
    sns.scatterplot(x=[dot_x] * len(labels), y=ys, hue=labels, palette=dict(zip(labels, colors)), s=dot, linewidth=0,
                    legend=False, ax=overlay)
    for lab, y in zip(labels, ys):
        overlay.text(text_x, y, lab, fontsize=size, color=TEXT, va="center", ha="left")


legend_col(A_LEG1, A_COL1, 509.3, 519.7, 41.5, 10.75, 7.0, 34)
legend_col(A_LEG2, A_COL2, 510, 520.3, 257.8, 10.15, 7.0, 30)
legend_col(A_LEG3, A_COL3, 686.3, 698.7, 45, 12.48, 8.5, 40)
legend_col(A_LEG4, A_COL4, 685.7, 697.7, 170.8, 12.04, 8.3, 38)
legend_col(B_LEG1, B_COL1, 513.7, 523, 512.7, 10.57, 7.05, 26)
legend_col(B_LEG2, B_COL2, 683.7, 693, 512.7, 10.57, 7.05, 26)
legend_col(C_LEG1, C_COL1, 512, 522.7, 1032, 11.95, 8.0, 30)
legend_col(C_LEG2, C_COL2, 666.3, 678, 1033, 13, 8.9, 36)
legend_col(D_LEG1, D_COL1, 511, 522, 1564.5, 13.0, 8.6, 34)
legend_col(D_LEG2, D_COL2, 658, 670, 1566.5, 12.44, 8.6, 34)

for x0, x1, y0, y1 in [(678.3, 768.7, 235.7, 261.3), (671.3, 762.7, 538.2, 547.8), (499, 590, 1469.3, 1478.7), (649.3, 740.3, 1599, 1609.5)]:
    overlay.add_patch(Rectangle((x0, y0), x1 - x0, y1 - y0, fill=False, ec="#ec3b4e", lw=0.9))

# titles, panel letters and axis names
for txt, x, y, size in [("LIHC GSE125449", 275, 38, 16.5), ("COAD GSE146771", 247, 534, 16.5), ("PAAD CRA001160", 247.5, 1063, 16.7),
                        ("STAD phs001818.v1.p1", 279.5, 1598, 16.2)]:
    overlay.text(x, y, txt, fontsize=size, fontweight="bold", family="DejaVu Sans", ha="center", va="center", color="black",
                 path_effects=[pe.withStroke(linewidth=0.8, foreground="black")])
for txt, y in [("A", 16), ("B", 497), ("C", 1019), ("D", 1562)]:
    overlay.text(2, y, txt, fontsize=20, fontweight="bold", ha="left", va="center", color="black")
for x, y in [(294, 452), (1120, 449), (264, 976), (1120, 981), (264, 1514), (1120, 1512), (251, 2106), (1120, 2104)]:
    overlay.text(x, y, "UMAP_1", fontsize=16.3, ha="center", va="center", color="black")
for x, y in [(62, 250), (877, 248), (43, 773), (861, 759), (43, 1284), (860, 1283), (43, 1827), (858, 1843)]:
    overlay.text(x, y, "UMAP_2", fontsize=16.3, rotation=90, ha="center", va="center", color="black")

overlay.set_xlim(0, W)
overlay.set_ylim(H, 0)
overlay.set_axis_off()

fig.savefig("out.png", dpi=100, facecolor="white")
